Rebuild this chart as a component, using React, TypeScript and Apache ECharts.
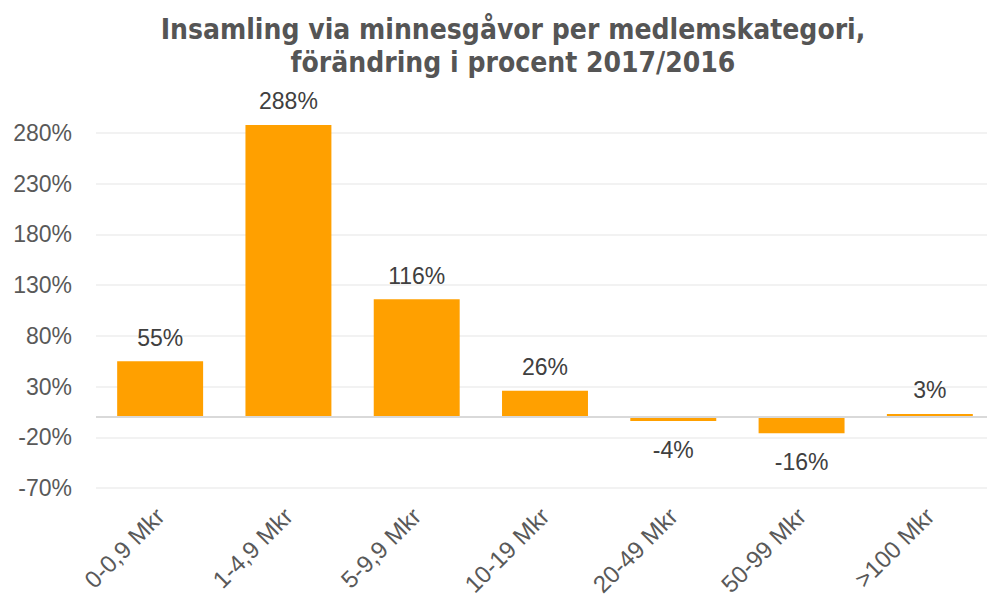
import React, { useEffect, useRef } from "react";
import * as echarts from "echarts";

const categories = ["0-0,9 Mkr", "1-4,9 Mkr", "5-9,9 Mkr", "10-19 Mkr", "20-49 Mkr", "50-99 Mkr", ">100 Mkr"];
const changePct = [55, 288, 116, 26, -4, -16, 3];
const yMin = -70;
const yMax = 280;
const yStep = 50;

export default function App() {
  const ref = useRef<HTMLDivElement>(null);
  useEffect(() => {
    document.body.style.margin = "0";
    const chart = echarts.init(ref.current!, null, { renderer: "svg" });
    chart.setOption({
      animation: false,
      backgroundColor: "#ffffff",
      title: {
        text: "Insamling via minnesgåvor per medlemskategori,\nförändring i procent 2017/2016",
        left: 508,
        top: 8,
        textAlign: "center",
        textStyle: {
          fontFamily: "DejaVu Sans Condensed",
          fontWeight: "bold",
          fontSize: 28,
          lineHeight: 33,
          color: "#555555",
        },
      },
      grid: {
        left: 96,
        width: 898,
        top: 133,
        bottom: 107,
        containLabel: false,
        outerBoundsMode: "none",
      },
      xAxis: {
        type: "category",
        data: categories,
        axisLine: { show: false },
        axisTick: { show: false },
        axisLabel: {
          rotate: 45,
          interval: 0,
          margin: 24,
          fontFamily: "Liberation Sans",
          fontSize: 24,
          color: "#595959",
        },
      },
      yAxis: {
        type: "value",
        min: yMin,
        max: yMax,
        interval: yStep,
        axisLine: { show: false },
        axisTick: { show: false },
        axisLabel: {
          formatter: "{value}%",
          margin: 24,
          fontFamily: "Liberation Sans",
          fontSize: 23,
          color: "#595959",
        },
        splitLine: { lineStyle: { color: "#eeeeee", width: 1.5 } },
      },
      series: [
        {
          type: "bar",
          data: changePct.map((v) => ({
            value: v,
            label: { position: v < 0 ? "bottom" : "top", distance: v < 0 ? 17 : 12 },
          })),
          clip: false,
          barCategoryGap: "33%",
          itemStyle: { color: "#ffa000" },
          label: {
            show: true,
            formatter: "{c}%",
            distance: 12,
            fontFamily: "Liberation Sans",
            fontSize: 23,
            color: "#404040",
          },
          markLine: {
            silent: true,
            symbol: "none",
            label: { show: false },
            lineStyle: { color: "#d9d9d9", width: 2, type: "solid" },
            data: [{ yAxis: 0 }],
          },
          z: 3,
        },
      ],
    });
    return () => chart.dispose();
  }, []);
  return <div ref={ref} style={{ width: 987, height: 595 }} />;
}
